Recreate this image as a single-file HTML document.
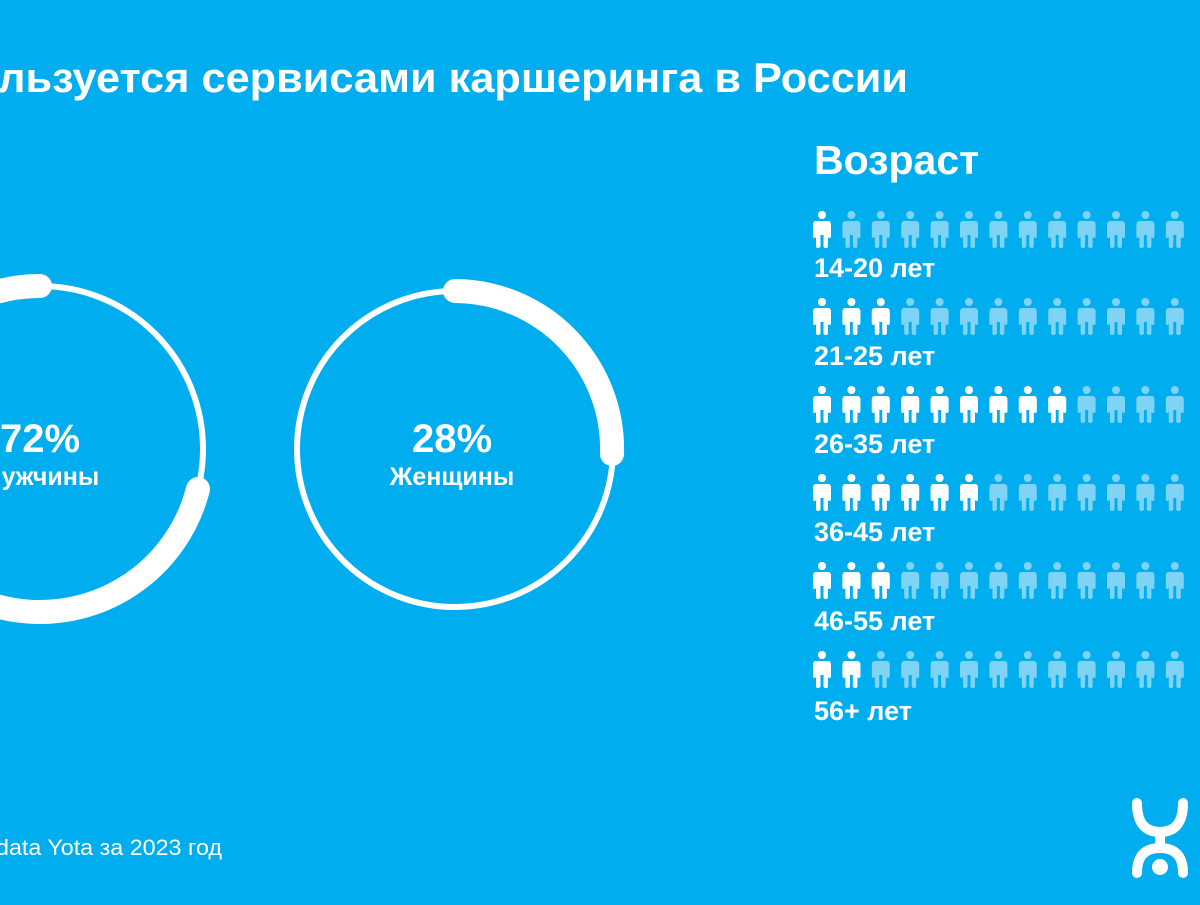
<!DOCTYPE html>
<html><head><meta charset="utf-8"><style>
html,body{margin:0;padding:0;}
body{width:1200px;height:900px;background:#00aeef;overflow:hidden;font-family:"Liberation Sans","DejaVu Sans",sans-serif;}
</style></head><body>
<svg width="1200" height="900" viewBox="0 0 1200 900" xmlns="http://www.w3.org/2000/svg" xmlns:xlink="http://www.w3.org/1999/xlink">
<defs>
<g id="p">
<circle cx="0" cy="4" r="4"/>
<path d="M-6,10 Q-9,10 -9,14 L-9,25 Q-9,27 -7.5,27 Q-6,27 -6,25 L-6,17 L-6,35 Q-6,37 -4,37 Q-1.5,37 -1.5,35 L-1.5,24 L1.5,24 L1.5,35 Q1.5,37 4,37 Q6,37 6,35 L6,17 L6,25 Q6,27 7.5,27 Q9,27 9,25 L9,14 Q9,10 6,10 Z"/>
</g>
<g id="r13">
<use xlink:href="#p" x="822"/><use xlink:href="#p" x="851.4"/><use xlink:href="#p" x="880.8"/><use xlink:href="#p" x="910.2"/><use xlink:href="#p" x="939.6"/><use xlink:href="#p" x="969"/><use xlink:href="#p" x="998.4"/><use xlink:href="#p" x="1027.8"/><use xlink:href="#p" x="1057.2"/><use xlink:href="#p" x="1086.6"/><use xlink:href="#p" x="1116"/><use xlink:href="#p" x="1145.4"/><use xlink:href="#p" x="1174.8"/>
</g>
</defs>
<text x="-2" y="92" fill="#fff" font-size="42" font-weight="bold" textLength="910" lengthAdjust="spacingAndGlyphs">льзуется сервисами каршеринга в России</text>
<text x="814" y="174" fill="#fff" font-size="41" font-weight="bold">Возраст</text>
<g fill="none" stroke="#fff" stroke-linecap="round">
<circle cx="40" cy="449" r="163" stroke-width="6"/>
<path d="M40,286 A163,163 0 1 0 198,489" stroke-width="24"/>
<circle cx="455" cy="449" r="158" stroke-width="6"/>
<path d="M455,291 A158,158 0 0 1 612,454" stroke-width="24"/>
</g>
<g fill="#fff" font-weight="bold" text-anchor="middle">
<text x="40" y="452" font-size="40">72%</text>
<text x="40" y="485" font-size="25">Мужчины</text>
<text x="452" y="452" font-size="40">28%</text>
<text x="452" y="485" font-size="25">Женщины</text>
</g>
<g fill="#7fd3f5">
<use xlink:href="#r13" y="211"/><use xlink:href="#r13" y="298"/><use xlink:href="#r13" y="386"/>
<use xlink:href="#r13" y="474"/><use xlink:href="#r13" y="562"/><use xlink:href="#r13" y="651"/>
</g>
<g fill="#fff">
<use xlink:href="#p" x="822" y="211"/>
<use xlink:href="#p" x="822" y="298"/><use xlink:href="#p" x="851.4" y="298"/><use xlink:href="#p" x="880.8" y="298"/>
<use xlink:href="#p" x="822" y="386"/><use xlink:href="#p" x="851.4" y="386"/><use xlink:href="#p" x="880.8" y="386"/><use xlink:href="#p" x="910.2" y="386"/><use xlink:href="#p" x="939.6" y="386"/><use xlink:href="#p" x="969" y="386"/><use xlink:href="#p" x="998.4" y="386"/><use xlink:href="#p" x="1027.8" y="386"/><use xlink:href="#p" x="1057.2" y="386"/>
<use xlink:href="#p" x="822" y="474"/><use xlink:href="#p" x="851.4" y="474"/><use xlink:href="#p" x="880.8" y="474"/><use xlink:href="#p" x="910.2" y="474"/><use xlink:href="#p" x="939.6" y="474"/><use xlink:href="#p" x="969" y="474"/>
<use xlink:href="#p" x="822" y="562"/><use xlink:href="#p" x="851.4" y="562"/><use xlink:href="#p" x="880.8" y="562"/>
<use xlink:href="#p" x="822" y="651"/><use xlink:href="#p" x="851.4" y="651"/>
</g>
<g fill="#fff" font-weight="bold" font-size="27">
<text x="814" y="277">14-20 лет</text>
<text x="814" y="365">21-25 лет</text>
<text x="814" y="453">26-35 лет</text>
<text x="814" y="541">36-45 лет</text>
<text x="814" y="630">46-55 лет</text>
<text x="814" y="720">56+ лет</text>
</g>
<text x="-4" y="855" fill="#fff" font-size="22" textLength="226" lengthAdjust="spacingAndGlyphs">data Yota за 2023 год</text>
<g fill="none" stroke="#fff" stroke-width="10" stroke-linecap="round">
<path d="M1137,803 Q1137,832 1160,832 Q1183,832 1183,803"/>
<line x1="1160" y1="832" x2="1160" y2="848"/>
<path d="M1137,873 Q1137,848 1160,848 Q1183,848 1183,873"/>
</g>
<circle cx="1160" cy="867" r="8" fill="#fff"/>
</svg>
</body></html>
